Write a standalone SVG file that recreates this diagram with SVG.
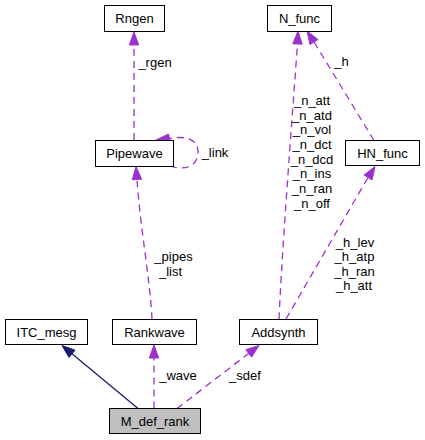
<svg xmlns="http://www.w3.org/2000/svg" width="425" height="440" viewBox="0 0 425 440">
<style>
text{font-family:"Liberation Sans",Arial,sans-serif;font-size:13px;fill:#000;text-anchor:middle}
.box{fill:#fff;stroke:#000;stroke-width:1}
.cur{fill:#bfbfbf;stroke:#000;stroke-width:1}
.dep{fill:none;stroke:#9a32cd;stroke-width:1.3;stroke-dasharray:7,5}
.ah{fill:#9a32cd;stroke:#9a32cd}
.inh{fill:none;stroke:#191970;stroke-width:1.3}
.ahn{fill:#191970;stroke:#191970}
</style>
<rect width="425" height="440" fill="#fff"/>
<g id="connectors">
<path class="inh" d="M138,408.5 L72,353.8"/>
<polygon class="ahn" points="62,345.5 69,357.4 75,350.2"/>
<path class="dep" d="M154,408.5 L154,358"/>
<polygon class="ah" points="154,345 149.3,358 158.7,358"/>
<text x="178" y="380">_wave</text>
<path class="dep" d="M177,408.5 L248.7,353.4"/>
<polygon class="ah" points="259,345.5 251.6,357.1 245.8,349.7"/>
<text x="245" y="380">_sdef</text>
<path class="dep" d="M152,319 C150,280 140,225 137,179.5"/>
<polygon class="ah" points="136,166.5 132.3,179.8 141.7,179.2"/>
<text x="173.5" y="261">_pipes</text>
<text x="170.5" y="275.5">_list</text>
<path class="dep" d="M134,140 L134,45"/>
<polygon class="ah" points="134,32 129.3,45 138.7,45"/>
<text x="155" y="67">_rgen</text>
<path class="dep" d="M170,166 C190,172 198,163 198,152 C198,141 189,135 169.5,138.5"/>
<polygon class="ah" points="155,140.5 168.5,134 170.5,142.5"/>
<text x="215" y="157">_link</text>
<path class="dep" d="M279,319 C282,250 292,120 297.5,44"/>
<polygon class="ah" points="298,31 292.8,43.8 302.2,44.2"/>
<text x="312" y="105">_n_att</text>
<text x="312" y="119.7">_n_atd</text>
<text x="312" y="134.3">_n_vol</text>
<text x="312" y="149">_n_dct</text>
<text x="312" y="163.7">_n_dcd</text>
<text x="312" y="178.3">_n_ins</text>
<text x="312" y="193">_n_ran</text>
<text x="312" y="207.7">_n_off</text>
<path class="dep" d="M286,319 L368,177.5"/>
<polygon class="ah" points="375,166.5 372,180 364,175"/>
<text x="355" y="247">_h_lev</text>
<text x="354.5" y="261.3">_h_atp</text>
<text x="354.5" y="275.7">_h_ran</text>
<text x="354" y="290">_h_att</text>
<path class="dep" d="M374,140.5 L314,42"/>
<polygon class="ah" points="307,31 310,44.5 318,39.5"/>
<text x="341.5" y="66">_h</text>
</g>
<g id="M_def_rank"><rect class="cur" x="109.5" y="408.5" width="91" height="25"/><text x="155" y="425.5">M_def_rank</text></g>
<g id="ITC_mesg"><rect class="box" x="5.5" y="319.5" width="82" height="25"/><text x="46.5" y="336.5">ITC_mesg</text></g>
<g id="Rankwave"><rect class="box" x="112.5" y="319.5" width="84" height="25"/><text x="154.5" y="336.5">Rankwave</text></g>
<g id="Addsynth"><rect class="box" x="239.5" y="319.5" width="78" height="25"/><text x="278.5" y="336.5">Addsynth</text></g>
<g id="Pipewave"><rect class="box" x="95.5" y="140.5" width="78" height="26"/><text x="134.5" y="157.5">Pipewave</text></g>
<g id="HN_func"><rect class="box" x="345.5" y="140.5" width="74" height="25"/><text x="382.5" y="157.5">HN_func</text></g>
<g id="Rngen"><rect class="box" x="104.5" y="5.5" width="60" height="26"/><text x="134.5" y="22.5">Rngen</text></g>
<g id="N_func"><rect class="box" x="267.5" y="5.5" width="64" height="26"/><text x="299.5" y="22.5">N_func</text></g>
</svg>
